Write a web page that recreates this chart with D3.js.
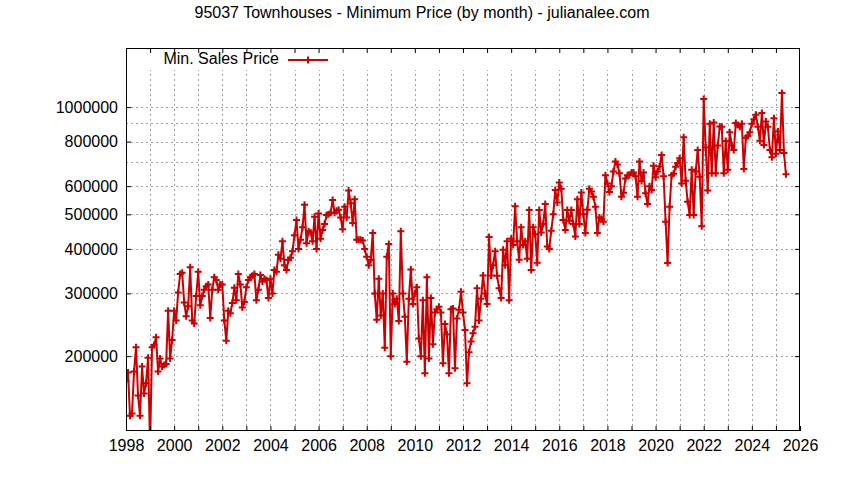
<!DOCTYPE html>
<html><head><meta charset="utf-8">
<script src="https://cdn.jsdelivr.net/npm/d3@7/dist/d3.min.js"></script>
<style>
body{margin:0;background:#fff}
svg text{font-family:"Liberation Sans",Arial,sans-serif;font-size:16px;fill:#000}
</style>
</head><body>
<svg id="chart" width="844" height="480"></svg>
<script>
const chartTitle = "95037 Townhouses - Minimum Price (by month) - julianalee.com";
const seriesName = "Min. Sales Price";
const startYear = 1998;
// monthly minimum sale price, Jan 1998 onward
const minPrice = [
  170000,180000,136000,138000,181000,212000,155000,136000,187000,157000,168000,198000,
  112000,212000,215000,226000,181000,197000,187000,189000,190000,268000,197000,222000,
  268000,252000,302000,340000,343000,283000,259000,276000,355000,252000,247000,295000,
  345000,278000,295000,307000,314000,318000,256000,307000,333000,327000,307000,318000,
  318000,252000,221000,268000,264000,282000,311000,287000,340000,318000,274000,284000,
  312000,327000,333000,336000,340000,287000,307000,338000,324000,330000,327000,291000,
  330000,300000,349000,345000,385000,375000,420000,360000,349000,372000,378000,394000,
  437000,482000,400000,424000,460000,532000,415000,448000,445000,420000,492000,400000,
  503000,427000,452000,470000,498000,500000,505000,549000,505000,512000,515000,490000,
  454000,525000,490000,583000,537000,473000,551000,424000,424000,424000,422000,400000,
  380000,360000,372000,443000,300000,253000,330000,260000,300000,211000,380000,413000,
  200000,300000,280000,290000,251000,448000,300000,258000,193000,290000,350000,280000,
  300000,312000,224000,200000,287000,179000,333000,197000,291000,216000,265000,271000,
  275000,265000,191000,246000,230000,179000,271000,272000,185000,255000,270000,303000,
  265000,237000,168000,205000,220000,232000,242000,310000,252000,290000,337000,300000,
  280000,432000,337000,360000,394000,336000,310000,291000,398000,360000,420000,287000,
  427000,410000,527000,420000,373000,460000,410000,420000,375000,514000,349000,460000,
  440000,366000,514000,445000,470000,535000,406000,400000,450000,500000,585000,540000,
  614000,590000,482000,452000,514000,480000,514000,470000,433000,551000,470000,576000,
  500000,443000,515000,590000,580000,560000,525000,443000,490000,485000,477000,644000,
  610000,578000,600000,660000,703000,690000,652000,560000,575000,630000,644000,645000,
  655000,655000,640000,560000,703000,620000,655000,573000,535000,600000,585000,685000,
  635000,660000,681000,734000,640000,477000,365000,525000,644000,650000,680000,697000,
  719000,610000,823000,621000,542000,498000,667000,498000,660000,758000,638000,463000,
  1053000,770000,583000,898000,652000,905000,652000,780000,882000,880000,652000,803000,
  667000,850000,780000,758000,902000,890000,880000,898000,670000,820000,830000,850000,
  898000,925000,952000,880000,805000,962000,783000,911000,880000,758000,723000,931000,
  740000,854000,758000,1095000,743000,648000
];
const yTickValues = [200000,300000,400000,500000,600000,800000,1000000];
const yGridValues = [200000,300000,400000,500000,600000,700000,800000,900000,1000000];
const xLabelYears = [1998,2000,2002,2004,2006,2008,2010,2012,2014,2016,2018,2020,2022,2024,2026];
const xGridYears = d3.range(1999, 2026);
const xDomain = [1998, 2026];
const yDomain = [123300, 1465000];

const L = 126, R = 800, T = 48, B = 431;
const svg = d3.select("#chart");
const x = d3.scaleLinear().domain(xDomain).range([L, R]);
const y = d3.scaleLog().domain(yDomain).range([B, T]);

svg.append("defs").append("clipPath").attr("id","plotclip")
  .append("rect").attr("x",L).attr("y",T).attr("width",R-L).attr("height",B-T);

// grid
const grid = svg.append("g").attr("stroke","#a0a0a0").attr("stroke-width",1).attr("stroke-dasharray","2,3");
grid.selectAll("line.v").data(xGridYears).join("line")
  .attr("x1",d=>Math.round(x(d))+0.5).attr("x2",d=>Math.round(x(d))+0.5)
  .attr("y1",B).attr("y2",T);
grid.selectAll("line.h").data(yGridValues).join("line")
  .attr("y1",d=>Math.round(y(d))+0.5).attr("y2",d=>Math.round(y(d))+0.5)
  .attr("x1",L).attr("x2",R);

// opaque key band
svg.append("rect").attr("x",L+1).attr("y",T+1).attr("width",R-L-2).attr("height",21).attr("fill","#fff");

// data
const pts = minPrice.map((v,i)=>({t:startYear + i/12, v}));
const line = d3.line().x(d=>x(d.t)).y(d=>y(d.v));
const dg = svg.append("g").attr("clip-path","url(#plotclip)");
dg.append("path").datum(pts).attr("d",line).attr("fill","none")
  .attr("stroke","#cc0000").attr("stroke-width",2).attr("stroke-linejoin","miter");
const plus = "M-3.5,0H3.5M0,-3.5V3.5";
dg.selectAll("path.pt").data(pts.filter(d=>d.v>=yDomain[0] && d.v<=yDomain[1])).join("path")
  .attr("class","pt").attr("d",plus).attr("transform",d=>`translate(${x(d.t)},${y(d.v)})`)
  .attr("stroke","#cc0000").attr("stroke-width",2).attr("fill","none");

// axes with inward ticks
const tk = 5;
const yAxis = d3.axisLeft(y).tickValues(yTickValues).tickFormat(d3.format("d")).tickSizeInner(-tk).tickSizeOuter(0).tickPadding(8);
svg.append("g").attr("transform",`translate(${L},0)`).call(yAxis).call(g=>{g.select(".domain").remove();g.selectAll("text").attr("font-size",16).attr("font-family","Liberation Sans, Arial, sans-serif").attr("fill","#000");});
const yAxisR = d3.axisRight(y).tickValues(yTickValues).tickFormat("").tickSizeInner(-tk).tickSizeOuter(0);
svg.append("g").attr("transform",`translate(${R},0)`).call(yAxisR).call(g=>g.select(".domain").remove());
const xAxis = d3.axisBottom(x).tickValues(xLabelYears).tickFormat(d3.format("d")).tickSizeInner(-tk).tickSizeOuter(0).tickPadding(9);
svg.append("g").attr("transform",`translate(0,${B})`).call(xAxis).call(g=>{g.select(".domain").remove();g.selectAll("text").attr("font-size",16).attr("font-family","Liberation Sans, Arial, sans-serif").attr("fill","#000").attr("dy","0.71em");});
const xMinor = d3.axisBottom(x).tickValues(xGridYears.filter(d=>d%2)).tickFormat("").tickSizeInner(-tk).tickSizeOuter(0);
svg.append("g").attr("transform",`translate(0,${B})`).call(xMinor).call(g=>g.select(".domain").remove());
const xTop = d3.axisTop(x).tickValues(d3.range(1999,2026)).tickFormat("").tickSizeInner(-tk).tickSizeOuter(0);
svg.append("g").attr("transform",`translate(0,${T})`).call(xTop).call(g=>g.select(".domain").remove());

svg.append("rect").attr("x",L+0.5).attr("y",T+0.5).attr("width",R-L-1).attr("height",B-T-1)
  .attr("fill","none").attr("stroke","#000").attr("stroke-width",1);

// key
svg.append("text").attr("x",279).attr("y",64).attr("text-anchor","end").text(seriesName);
svg.append("line").attr("x1",288).attr("x2",328).attr("y1",60).attr("y2",60).attr("stroke","#cc0000").attr("stroke-width",2);
svg.append("path").attr("d",plus).attr("transform","translate(308,60)").attr("stroke","#cc0000").attr("stroke-width",2);

// title
svg.append("text").attr("x",422).attr("y",18).attr("text-anchor","middle").text(chartTitle);
</script>
</body></html>
